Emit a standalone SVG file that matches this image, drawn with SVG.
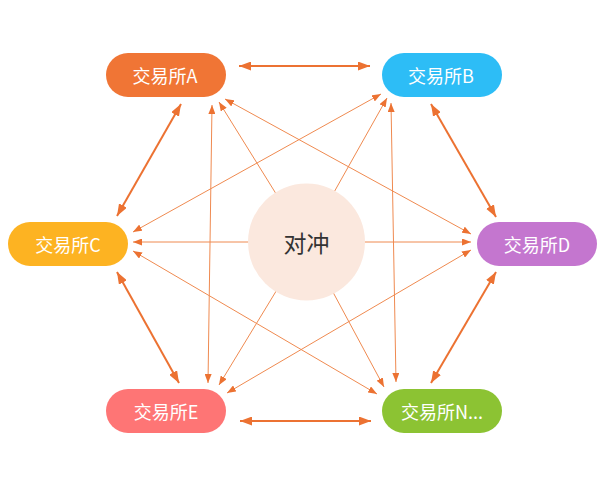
<svg xmlns="http://www.w3.org/2000/svg" width="605" height="495" viewBox="0 0 605 495">
<style>
.node text{fill:#fff;font-family:"Noto Sans CJK SC","Noto Sans",sans-serif;font-size:18px;text-anchor:middle;dominant-baseline:central}
.thick{stroke:#ec7232;stroke-width:2;fill:none;marker-start:url(#hb);marker-end:url(#hb)}
.thin2{stroke:#ef8a50;stroke-width:1;fill:none;marker-start:url(#ht);marker-end:url(#ht)}
.thin1{stroke:#ef8a50;stroke-width:1;fill:none;marker-end:url(#ht)}
</style>
<defs>
<marker id="hb" markerUnits="userSpaceOnUse" viewBox="0 0 12 9" refX="12" refY="4.5" markerWidth="12" markerHeight="9" orient="auto-start-reverse"><path d="M0,0 L12,4.5 L0,9 z" fill="#ec7232"/></marker>
<marker id="ht" markerUnits="userSpaceOnUse" viewBox="0 0 9 7" refX="9" refY="3.5" markerWidth="9" markerHeight="7" orient="auto-start-reverse"><path d="M0,0 L9,3.5 L0,7 z" fill="#ec7232"/></marker>
</defs>
<rect width="605" height="495" fill="#fff"/>
<g id="connectors">
<line class="thin1" x1="306" y1="242" x2="219" y2="102"/>
<line class="thin1" x1="306" y1="242" x2="387" y2="98"/>
<line class="thin1" x1="306" y1="242" x2="133" y2="242"/>
<line class="thin1" x1="306" y1="242" x2="471" y2="242"/>
<line class="thin1" x1="306" y1="242" x2="219" y2="385"/>
<line class="thin1" x1="306" y1="242" x2="384" y2="387"/>
<line class="thin2" x1="212" y1="105" x2="208" y2="383"/>
<line class="thin2" x1="391" y1="103" x2="396" y2="382"/>
<line class="thin2" x1="225" y1="99" x2="471" y2="234"/>
<line class="thin2" x1="381" y1="94" x2="133" y2="232"/>
<line class="thin2" x1="133" y1="251" x2="377" y2="394"/>
<line class="thin2" x1="471" y1="250" x2="227" y2="393"/>
<line class="thick" x1="239" y1="66" x2="370" y2="66"/>
<line class="thick" x1="431" y1="104" x2="496" y2="217"/>
<line class="thick" x1="496" y1="272" x2="431" y2="383"/>
<line class="thick" x1="240" y1="421" x2="371" y2="421"/>
<line class="thick" x1="117" y1="272" x2="179" y2="383"/>
<line class="thick" x1="181" y1="104" x2="117" y2="216"/>
</g>
<g id="center">
<circle cx="306.5" cy="242" r="58.5" fill="#fbe8de"/>
<text x="306.5" y="242" font-family="Noto Sans CJK SC,Noto Sans,sans-serif" font-size="23" fill="#333" text-anchor="middle" dominant-baseline="central">对冲</text>
</g>
<g id="nodeA" class="node"><rect x="106" y="53" width="120" height="44" rx="22" fill="#f07535"/><text x="165" y="75">交易所A</text></g>
<g id="nodeB" class="node"><rect x="382" y="53" width="120" height="44" rx="22" fill="#2dbdf6"/><text x="441" y="75">交易所B</text></g>
<g id="nodeC" class="node"><rect x="8" y="222" width="120" height="44" rx="22" fill="#fdb322"/><text x="68" y="244">交易所C</text></g>
<g id="nodeD" class="node"><rect x="477" y="222" width="120" height="44" rx="22" fill="#c476cf"/><text x="537" y="244">交易所D</text></g>
<g id="nodeE" class="node"><rect x="106" y="389" width="120" height="44" rx="22" fill="#fe7575"/><text x="166" y="411">交易所E</text></g>
<g id="nodeN" class="node"><rect x="382" y="389" width="120" height="44" rx="22" fill="#8cc333"/><text x="442" y="411">交易所N...</text></g>
</svg>
